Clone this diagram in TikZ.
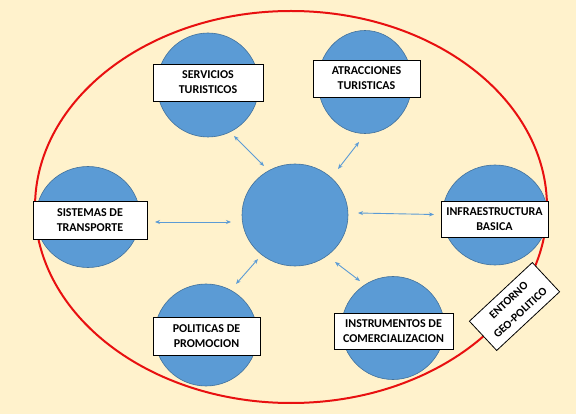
\documentclass[tikz,border=0pt]{standalone}
\usepackage{fontspec}
\setmainfont{Carlito}
\usetikzlibrary{shapes.geometric,arrows.meta}
\definecolor{bg}{HTML}{FFF2CC}
\definecolor{circfill}{HTML}{5B9BD5}
\definecolor{circline}{HTML}{41719C}
\definecolor{arr}{HTML}{5B9BD5}
\definecolor{ring}{HTML}{E81010}
\begin{document}
\begin{tikzpicture}[x=1pt,y=-1pt,
  blob/.style={ellipse,fill=circfill,draw=circline,line width=0.6pt,inner sep=0pt},
  label/.style={draw=black,fill=white,line width=0.8pt,align=center,inner sep=0pt,
    font=\fontsize{12}{15}\selectfont\bfseries},
  link/.style={draw=arr,line width=0.9pt,{Stealth[length=5pt,width=4pt]}-{Stealth[length=5pt,width=4pt]}}]
\fill[bg] (0,0) rectangle (576,414);
\useasboundingbox (0,0) rectangle (576,414);
\node[ellipse,draw=ring,line width=2pt,minimum width=512pt,minimum height=392pt,inner sep=0pt] (ring) at (291,207) {};
% circles
\node[blob,minimum width=102pt,minimum height=104pt] (srv) at (208,85) {};
\node[blob,minimum width=94pt,minimum height=103pt] (atr) at (365,82) {};
\node[blob,minimum width=104pt,minimum height=101pt] (sis) at (88,217) {};
\node[blob,minimum width=105pt,minimum height=100pt] (inf) at (495,215) {};
\node[blob,minimum width=106pt,minimum height=102pt] (ctr) at (295,215) {};
\node[blob,minimum width=103pt,minimum height=102pt] (pol) at (206,335) {};
\node[blob,minimum width=103pt,minimum height=103pt] (ins) at (393,328) {};
% labels
\node[label,minimum width=110pt,minimum height=37pt] (lsrv) at (208,82.5) {SERVICIOS\\TURISTICOS};
\node[label,minimum width=107pt,minimum height=37pt] (latr) at (366.5,78.5) {ATRACCIONES\\TURISTICAS};
\node[label,minimum width=114pt,minimum height=38pt] (lsis) at (90,220) {SISTEMAS DE\\TRANSPORTE};
\node[label,minimum width=107pt,minimum height=36pt] (linf) at (494.5,219) {INFRAESTRUCTURA\\BASICA};
\node[label,minimum width=107pt,minimum height=38pt] (lpol) at (206.5,336) {POLITICAS DE\\PROMOCION};
\node[label,minimum width=119pt,minimum height=36pt] (lins) at (393.5,331) {INSTRUMENTOS DE\\COMERCIALIZACION};
\node[label,rotate=43,minimum width=86pt,minimum height=40pt,font=\fontsize{11.5}{17}\selectfont\bfseries] (lent) at (514.5,306.5) {ENTORNO\\GEO-POLITICO};
% arrow ends
\coordinate (a1) at (234,136); \coordinate (b1) at (264,166);
\coordinate (a2) at (359,142); \coordinate (b2) at (338,169);
\coordinate (a3) at (155,222); \coordinate (b3) at (231,222);
\coordinate (a4) at (434,214.5); \coordinate (b4) at (358,213);
\coordinate (a5) at (236,284); \coordinate (b5) at (258,259);
\coordinate (a6) at (360,281); \coordinate (b6) at (335,262);
\foreach \i in {1,...,6} {\draw[link] (a\i) -- (b\i);}
\end{tikzpicture}
\end{document}
